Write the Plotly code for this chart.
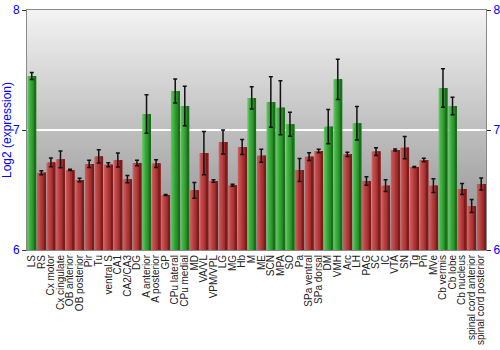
import base64
import plotly.graph_objects as go

# Brain regions and their mean log2 expression with standard error
regions = [
    "LS", "RS", "Cx motor", "Cx cingulate", "OB anterior", "OB posterior", "Pir", "Tu",
    "ventral S", "CA1", "CA2/CA3", "DG", "A anterior", "A posterior", "GP", "CPu lateral",
    "CPu medial", "MD", "VA/VL", "VPM/VPL", "LG", "MG", "Hb", "M", "ME", "SCN", "MPA", "SO",
    "Pa", "SPa ventral", "SPa dorsal", "DM", "VMH", "Arc", "LH", "PAG", "SC", "IC", "VTA",
    "SN", "Tg", "Pn", "MVe", "Cb vermis", "Cb lobe", "Cb nucleus", "spinal cord anterior",
    "spinal cord posterior",
]
expression = [
    7.45, 6.644, 6.73, 6.756, 6.667, 6.583, 6.717, 6.78,
    6.71, 6.75, 6.59, 6.725, 7.133, 6.72, 6.458, 7.325,
    7.2, 6.497, 6.808, 6.575, 6.90, 6.54, 6.858, 7.267, 6.786, 7.233, 7.186, 7.047,
    6.667, 6.778, 6.825, 7.028, 7.422, 6.797, 7.056, 6.575, 6.82, 6.536, 6.833,
    6.853, 6.692, 6.75, 6.536, 7.35, 7.2, 6.508, 6.367,
    6.55,
]
std_err = [
    0.03, 0.017, 0.037, 0.07, 0.005, 0.015, 0.03, 0.055,
    0.017, 0.058, 0.03, 0.022, 0.16, 0.032, 0.004, 0.1,
    0.165, 0.065, 0.18, 0.01, 0.1, 0.008, 0.062, 0.093, 0.054, 0.21, 0.225, 0.1,
    0.096, 0.032, 0.015, 0.143, 0.167, 0.017, 0.14, 0.036, 0.033, 0.049, 0.008,
    0.092, 0.004, 0.014, 0.057, 0.16, 0.072, 0.046, 0.054,
    0.051,
]
threshold = 7.0

# Left-to-right shading of each bar (light edge -> dark edge)
red_shades = ["#cc5a5a", "#c04a4a", "#b53e3e", "#aa3434", "#962929", "#7c1d1d"]
green_shades = ["#5cc25c", "#46b446", "#36a636", "#2e982e", "#268526", "#1b6e1b"]

xs = list(range(len(regions)))
bar_width = 0.9
n_strips = len(red_shades)
step = bar_width / n_strips

fig = go.Figure()

for k in range(n_strips):
    colors = [green_shades[k] if v > threshold else red_shades[k] for v in expression]
    fig.add_trace(go.Bar(
        x=xs, y=expression,
        offset=-bar_width / 2 + k * step,
        width=bar_width - k * step,
        marker=dict(color=colors, line=dict(width=0)),
        hoverinfo="skip", showlegend=False,
    ))

fig.add_trace(go.Scatter(
    x=xs, y=expression, yaxis="y2", mode="markers",
    marker=dict(size=1, opacity=0),
    error_y=dict(type="data", array=std_err, color="#111111", thickness=1.5, width=2),
    showlegend=False, hoverinfo="skip",
))

# vertical grey gradient behind the plot area
svg = (
    '<svg xmlns="http://www.w3.org/2000/svg" width="10" height="100" viewBox="0 0 10 100" '
    'preserveAspectRatio="none"><defs><linearGradient id="g" x1="0" y1="0" x2="0" y2="1">'
    '<stop offset="0" stop-color="#f3f3f3"/><stop offset="1" stop-color="#8a8a8a"/>'
    '</linearGradient></defs><rect width="10" height="100" fill="url(#g)"/></svg>'
)
bg_src = "data:image/svg+xml;base64," + base64.b64encode(svg.encode()).decode()

axis_font = dict(family="Liberation Sans, Arial, sans-serif", size=12, color="#0000ff")

fig.update_layout(
    width=500, height=350,
    margin=dict(l=27, r=14, t=10, b=100),
    paper_bgcolor="white",
    plot_bgcolor="rgba(0,0,0,0)",
    barmode="overlay",
    font=dict(family="Liberation Sans, Arial, sans-serif"),
    images=[dict(source=bg_src, xref="paper", yref="paper", x=0, y=1, sizex=1, sizey=1,
                 sizing="stretch", xanchor="left", yanchor="top", layer="below")],
    xaxis=dict(
        range=[-0.5, len(regions) - 0.5],
        tickvals=xs, ticktext=regions, tickangle=-90,
        tickfont=dict(family="Liberation Sans, Arial, sans-serif", size=10, color="#222222"),
        showgrid=False, zeroline=False, ticks="",
        showline=True, mirror=True, linecolor="#8a8a8a", linewidth=1,
        automargin=False,
    ),
    yaxis=dict(
        range=[6, 8], tickvals=[6, 7, 8], ticks="outside", ticklen=4, tickcolor="#333333",
        tickfont=axis_font, showgrid=True, gridcolor="white", gridwidth=1.5,
        zeroline=False, showline=True, linecolor="#8a8a8a", linewidth=1,
        title=dict(text="Log2 (expression)", font=axis_font, standoff=4),
        automargin=False,
    ),
    yaxis2=dict(
        range=[6, 8], tickvals=[6, 7, 8], overlaying="y", side="right",
        ticks="outside", ticklen=4, tickcolor="#333333", tickfont=axis_font,
        showgrid=False, zeroline=False, showline=True, linecolor="#8a8a8a", linewidth=1,
        automargin=False,
    ),
)

fig.write_html("out.html")
